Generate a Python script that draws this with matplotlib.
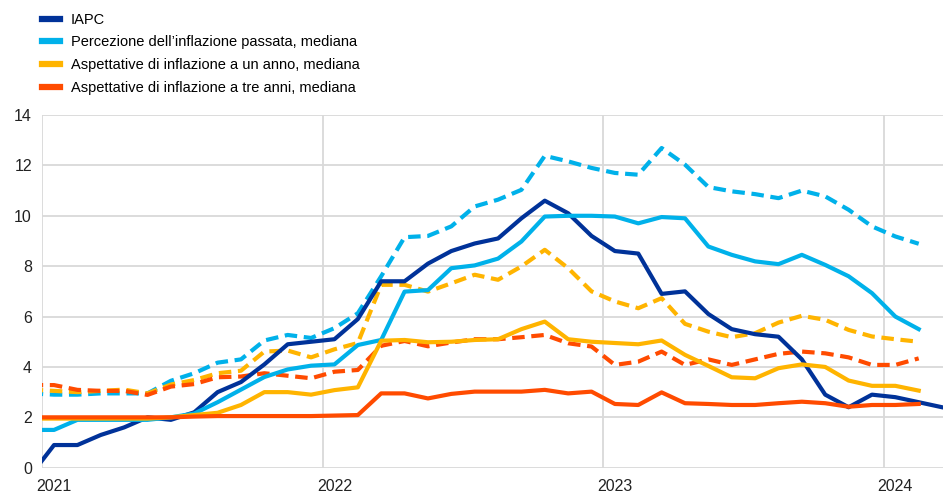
import numpy as np
import matplotlib
matplotlib.use("Agg")
import matplotlib.pyplot as plt
from matplotlib.lines import Line2D

plt.rcParams['font.family'] = ['Liberation Sans', 'DejaVu Sans']

# monthly data, Dec 2020 onwards
years = ['2021', '2022', '2023', '2024']

iapc = [-0.3,
        0.9, 0.9, 1.3, 1.6, 2.0, 1.9, 2.2, 3.0, 3.4, 4.1, 4.9, 5.0,
        5.1, 5.9, 7.4, 7.4, 8.1, 8.6, 8.9, 9.1, 9.9, 10.6, 10.1, 9.2,
        8.6, 8.5, 6.9, 7.0, 6.1, 5.5, 5.3, 5.2, 4.3, 2.9, 2.4, 2.9,
        2.8, 2.6, 2.4]

perc_med = [1.5,
            1.5, 1.9, 1.9, 1.9, 1.9, 2.0, 2.15, 2.6, 3.1, 3.6, 3.9, 4.05,
            4.1, 4.87, 5.07, 6.99, 7.05, 7.92, 8.03, 8.3, 8.98, 9.97, 10.0, 10.0,
            9.97, 9.7, 9.95, 9.9, 8.78, 8.45, 8.19, 8.08, 8.45, 8.05, 7.6, 6.93,
            6.0, 5.5]
perc_mean = [2.95,
             2.9, 2.9, 2.95, 2.95, 2.95, 3.45, 3.75, 4.17, 4.3, 5.05, 5.27, 5.15,
             5.54, 6.13, 7.6, 9.15, 9.2, 9.58, 10.37, 10.64, 11.03, 12.38, 12.16, 11.9,
             11.7, 11.63, 12.69, 12.03, 11.14, 10.97, 10.86, 10.7, 11.0, 10.77, 10.24, 9.58,
             9.18, 8.89]

exp1_med = [1.95,
            1.95, 1.95, 1.95, 1.95, 1.95, 2.0, 2.09, 2.18, 2.49, 3.0, 3.0, 2.9,
            3.08, 3.19, 5.04, 5.07, 4.98, 5.0, 5.07, 5.1, 5.5, 5.8, 5.1, 5.0,
            4.95, 4.9, 5.05, 4.48, 4.04, 3.59, 3.55, 3.95, 4.1, 4.0, 3.46, 3.25,
            3.25, 3.06]
exp1_mean = [3.1,
             3.05, 3.0, 3.05, 3.1, 2.95, 3.3, 3.48, 3.75, 3.85, 4.61, 4.65, 4.38,
             4.7, 4.95, 7.26, 7.26, 6.99, 7.32, 7.66, 7.46, 7.99, 8.65, 7.92, 7.0,
             6.6, 6.33, 6.73, 5.71, 5.4, 5.18, 5.34, 5.76, 6.03, 5.87, 5.47, 5.21,
             5.1, 5.0]

exp3_med = [2.0,
            2.0, 2.0, 2.0, 2.0, 2.0, 2.0, 2.03, 2.05, 2.05, 2.05, 2.05, 2.05,
            2.07, 2.09, 2.95, 2.95, 2.75, 2.93, 3.02, 3.02, 3.02, 3.09, 2.95, 3.02,
            2.53, 2.49, 2.99, 2.56, 2.53, 2.49, 2.49, 2.56, 2.62, 2.56, 2.42, 2.49,
            2.49, 2.53]
exp3_mean = [3.28,
             3.28, 3.09, 3.05, 3.05, 2.89, 3.22, 3.32, 3.59, 3.62, 3.75, 3.65, 3.55,
             3.81, 3.88, 4.84, 5.03, 4.82, 4.97, 5.1, 5.1, 5.18, 5.27, 4.94, 4.81,
             4.08, 4.21, 4.61, 4.08, 4.3, 4.08, 4.3, 4.52, 4.61, 4.54, 4.38, 4.08,
             4.08, 4.34]

labels = ['IAPC',
          "Percezione dell\u2019inflazione passata, mediana",
          'Aspettative di inflazione a un anno, mediana',
          'Aspettative di inflazione a tre anni, mediana']

c_iapc = '#003299'
c_perc = '#00b1ea'
c_exp1 = '#ffb400'
c_exp3 = '#ff4b00'

def xpos(values):
    # month centres, first value is Dec 2020
    return np.arange(len(values)) - 1 + 0.5

fig = plt.figure(figsize=(9.43, 4.93), dpi=100)
ax = fig.add_axes([0.0449, 0.0513, 0.9551, 0.7154])

lw = 3.0
dash = (3.0, 1.6)
ax.plot(xpos(perc_mean), perc_mean, color=c_perc, lw=lw, dashes=dash)
ax.plot(xpos(exp1_mean), exp1_mean, color=c_exp1, lw=lw, dashes=dash)
ax.plot(xpos(exp3_mean), exp3_mean, color=c_exp3, lw=lw, dashes=dash)
ax.plot(xpos(iapc), iapc, color=c_iapc, lw=lw)
ax.plot(xpos(perc_med), perc_med, color=c_perc, lw=lw)
ax.plot(xpos(exp1_med), exp1_med, color=c_exp1, lw=lw)
ax.plot(xpos(exp3_med), exp3_med, color=c_exp3, lw=lw)

ax.set_ylim(0, 14)
ax.set_xlim(0, 38.54)
ax.set_yticks(np.arange(0, 15, 2))
ax.set_xticks(np.arange(len(years)) * 12)
ax.set_xticklabels([])
ax.set_xticks(np.arange(len(years)) * 12 + 0.5, minor=True)
ax.set_xticklabels(years, minor=True)
ax.tick_params(axis='both', which='both', length=0, labelsize=11.5, colors='#222222')
ax.tick_params(axis='y', pad=7.5)
ax.tick_params(axis='x', which='minor', pad=8)
ax.grid(True, which='major', color='#d9d9d9', lw=1.3)
ax.set_axisbelow(True)
for s in ax.spines.values():
    s.set_visible(False)

handles = [Line2D([], [], color=c, lw=4.5) for c in [c_iapc, c_perc, c_exp1, c_exp3]]
fig.legend(handles, labels, loc='upper left', bbox_to_anchor=(0.034, 0.995),
           frameon=False, fontsize=10.5, handlelength=1.25, handletextpad=0.7,
           labelspacing=0.6, borderaxespad=0.3)

fig.savefig('out.png', dpi=100)
